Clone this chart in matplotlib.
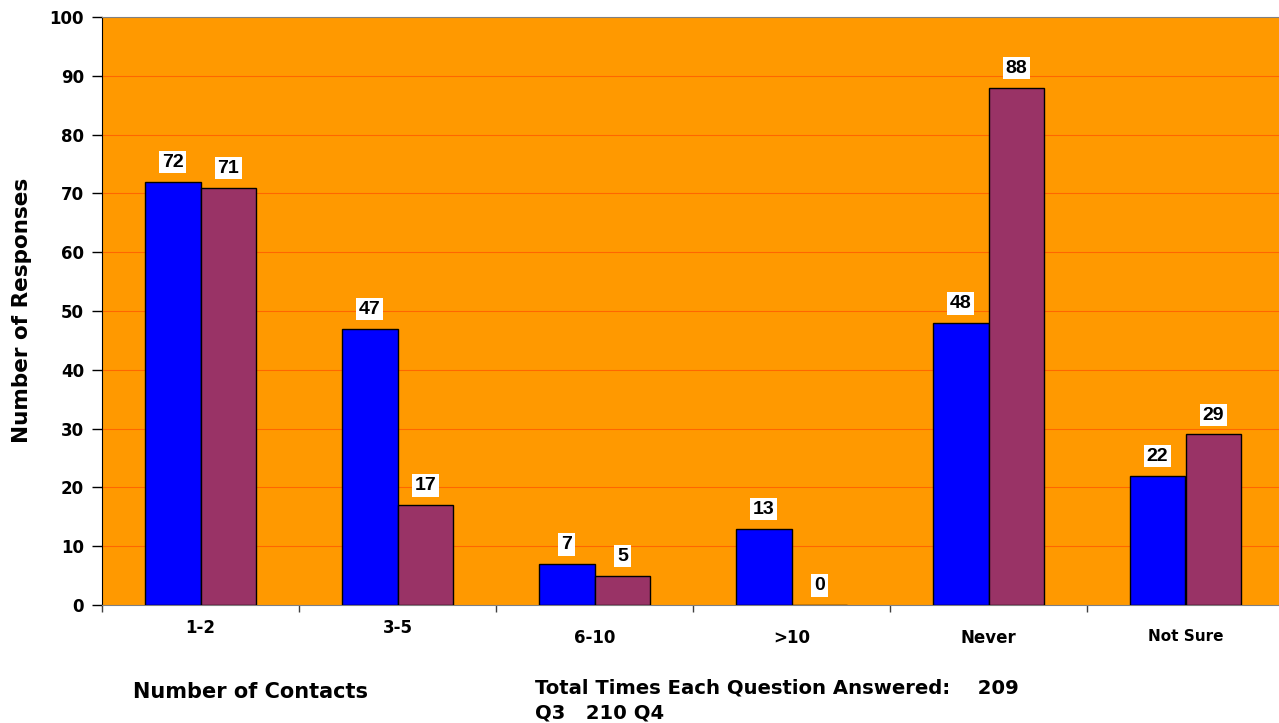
import matplotlib
matplotlib.use("Agg")
import matplotlib.pyplot as plt
import matplotlib.transforms as mtransforms

categories = ["1-2", "3-5", "6-10", ">10", "Never", "Not Sure"]
q3_values = [72, 47, 7, 13, 48, 22]
q4_values = [71, 17, 5, 0, 88, 29]
y_ticks = list(range(0, 101, 10))

plt.rcParams['font.family'] = ['DejaVu Sans']
plt.rcParams['font.weight'] = 'bold'

fig = plt.figure(figsize=(12.79, 7.23), dpi=100)
ax = fig.add_axes([102/1279, 118/723, 1182/1279, 588/723])
ax.set_facecolor('#FF9900')

n = len(categories)
xs = list(range(n))
w = 0.284
ax.bar([x - w/2 for x in xs], q3_values, width=w, color='#0000FF', edgecolor='black', linewidth=1, zorder=3)
ax.bar([x + w/2 for x in xs], q4_values, width=w, color='#993366', edgecolor='black', linewidth=1, zorder=3)

lab_font = ['Liberation Sans', 'DejaVu Sans']
for x, v in zip(xs, q3_values):
    ax.annotate(str(v), (x - w/2, v), xytext=(0, 14), textcoords='offset points',
                ha='center', va='center', fontsize=14, fontweight='bold', family=lab_font, zorder=5,
                bbox=dict(boxstyle='square,pad=0.14', fc='white', ec='none'))
for x, v in zip(xs, q4_values):
    ax.annotate(str(v), (x + w/2, v), xytext=(0, 14), textcoords='offset points',
                ha='center', va='center', fontsize=14, fontweight='bold', family=lab_font, zorder=5,
                bbox=dict(boxstyle='square,pad=0.14', fc='white', ec='none'))

ax.set_xlim(-0.5, n - 0.5)
ax.set_ylim(0, 100)
ax.set_yticks(y_ticks)
ax.set_yticklabels([str(t) for t in y_ticks], fontsize=12, fontweight='bold')
ax.tick_params(axis='y', direction='out', length=7, width=1, pad=6)
ax.set_xticks([i - 0.5 for i in range(n + 1)])
ax.set_xticklabels([])
ax.tick_params(axis='x', direction='out', length=5, width=1, color='#404040')

for t in y_ticks[1:-1]:
    ax.axhline(t, color='#FF6600', linewidth=0.8, zorder=1)

ax.spines['left'].set_color('black')
ax.spines['bottom'].set_color('#808080')
ax.spines['top'].set_color('#808080')
ax.spines['right'].set_visible(False)

trans = mtransforms.blended_transform_factory(ax.transData, ax.transAxes)
label_y = [-0.0391, -0.0391, -0.0561, -0.0561, -0.0561, -0.0544]
label_fs = [12, 12, 12, 12, 12, 11]
for x, lab, ly, fs in zip(xs, categories, label_y, label_fs):
    ax.text(x, ly, lab, transform=trans, ha='center', va='center', fontsize=fs, fontweight='bold')

fig.text(22/1279, 1 - 310/723, "Number of Responses", rotation=90, ha='center', va='center',
         fontsize=15.5, fontweight='bold')
fig.text(133/1279, 1 - 692/723, "Number of Contacts", ha='left', va='center',
         fontsize=15, fontweight='bold')
fig.text(535/1279, 1 - 688/723, "Total Times Each Question Answered:    209", ha='left', va='center',
         fontsize=14.1, fontweight='bold')
fig.text(535/1279, 1 - 713/723, "Q3   210 Q4", ha='left', va='center',
         fontsize=14.1, fontweight='bold')

fig.savefig("out.png", dpi=100)
